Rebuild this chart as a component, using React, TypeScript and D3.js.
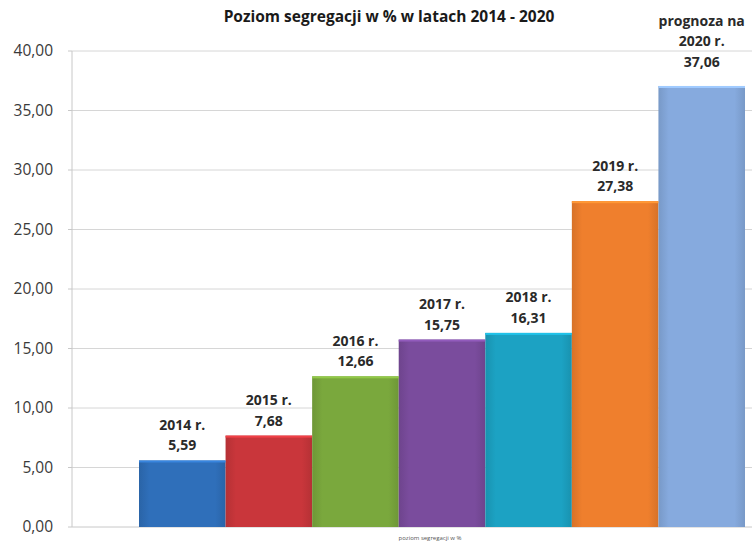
import { useEffect, useRef } from 'react';
import * as d3 from 'd3';

const years = ['2014', '2015', '2016', '2017', '2018', '2019', '2020'];
const values = [5.59, 7.68, 12.66, 15.75, 16.31, 27.38, 37.06];
const colors = ['#2f6fba', '#c9363b', '#7aa83d', '#7a4c9d', '#1ca2c3', '#ef7f2d', '#86aade'];
const labels = [
  ['2014 r.', '5,59'],
  ['2015 r.', '7,68'],
  ['2016 r.', '12,66'],
  ['2017 r.', '15,75'],
  ['2018 r.', '16,31'],
  ['2019 r.', '27,38'],
  ['prognoza na', '2020 r.', '37,06'],
];
const yTicks = [0, 5, 10, 15, 20, 25, 30, 35, 40];

const W = 754;
const H = 546;
const FONT = "'Open Sans', 'DejaVu Sans', sans-serif";

export default function App() {
  const ref = useRef<SVGSVGElement>(null);

  useEffect(() => {
    const svg = d3.select(ref.current);
    svg.selectAll('*').remove();

    const left = 72, right = 752, top = 51, bottom = 527;
    const y = d3.scaleLinear().domain([0, 40]).range([bottom, top]);
    const x = d3.scaleBand().domain(years).range([139, 745]).padding(0);

    svg.append('rect').attr('width', W).attr('height', H).attr('fill', '#fff');

    const defs = svg.append('defs');
    years.forEach((yr, i) => {
      const c = d3.color(colors[i])!;
      const g = defs.append('linearGradient').attr('id', `grad${i}`).attr('x1', 0).attr('x2', 1).attr('y1', 0).attr('y2', 0);
      g.append('stop').attr('offset', '0%').attr('stop-color', c.darker(0.3).toString());
      g.append('stop').attr('offset', '12%').attr('stop-color', c.toString());
      g.append('stop').attr('offset', '88%').attr('stop-color', c.toString());
      g.append('stop').attr('offset', '100%').attr('stop-color', c.darker(0.3).toString());
    });

    // grid
    svg.append('g').selectAll('line').data(yTicks.filter(d => d > 0)).enter().append('line')
      .attr('x1', left).attr('x2', right).attr('y1', d => y(d)).attr('y2', d => y(d))
      .attr('stroke', '#d6d6d6').attr('stroke-width', 1);

    // axes lines
    svg.append('line').attr('x1', left).attr('x2', left).attr('y1', top).attr('y2', bottom)
      .attr('stroke', '#c8c8c8');
    svg.append('line').attr('x1', left).attr('x2', right).attr('y1', bottom).attr('y2', bottom)
      .attr('stroke', '#c8c8c8');
    svg.append('g').selectAll('line').data(yTicks).enter().append('line')
      .attr('x1', left - 4).attr('x2', left).attr('y1', d => y(d)).attr('y2', d => y(d))
      .attr('stroke', '#c8c8c8');

    svg.append('g').selectAll('text').data(yTicks).enter().append('text')
      .attr('x', 53).attr('y', d => y(d)).attr('dy', '0.35em').attr('text-anchor', 'end')
      .style('font-family', FONT).style('font-size', '15.5px').style('fill', '#3a3a3a')
      .text(d => d3.format('.2f')(d).replace('.', ','));

    // bars
    svg.append('g').selectAll('rect').data(values).enter().append('rect')
      .attr('x', (d, i) => x(years[i])!).attr('width', x.bandwidth())
      .attr('y', d => y(d)).attr('height', d => bottom - y(d))
      .attr('fill', (d, i) => `url(#grad${i})`);

    // top highlight
    svg.append('g').selectAll('rect').data(values).enter().append('rect')
      .attr('x', (d, i) => x(years[i])!).attr('width', x.bandwidth())
      .attr('y', d => y(d)).attr('height', 2)
      .attr('fill', (d, i) => d3.color(colors[i])!.brighter(0.5).toString());

    // labels
    const lg = svg.append('g');
    values.forEach((v, i) => {
      const lines = labels[i];
      const cx = x(years[i])! + x.bandwidth() / 2;
      const off = lines.length > 2 ? 19 : 10;
      lines.forEach((t, j) => {
        lg.append('text')
          .attr('x', cx).attr('y', y(v) - off - (lines.length - 1 - j) * 20.5)
          .attr('text-anchor', 'middle')
          .style('font-family', FONT).style('font-size', '14px').style('font-weight', 'bold')
          .style('fill', '#2a2a2a')
          .text(t);
      });
    });

    svg.append('text').attr('x', 389).attr('y', 22).attr('text-anchor', 'middle')
      .style('font-family', FONT).style('font-size', '15.5px').style('font-weight', 'bold')
      .style('fill', '#1a1a1a').text('Poziom segregacji w % w latach 2014 - 2020');

    svg.append('text').attr('x', 430).attr('y', 540).attr('text-anchor', 'middle')
      .style('font-family', FONT).style('font-size', '6px').style('fill', '#555')
      .text('poziom segregacji w %');
  }, []);

  return (
    <svg ref={ref} width={W} height={H}
      style={{ position: 'absolute', left: 0, top: 0, display: 'block' }} />
  );
}
